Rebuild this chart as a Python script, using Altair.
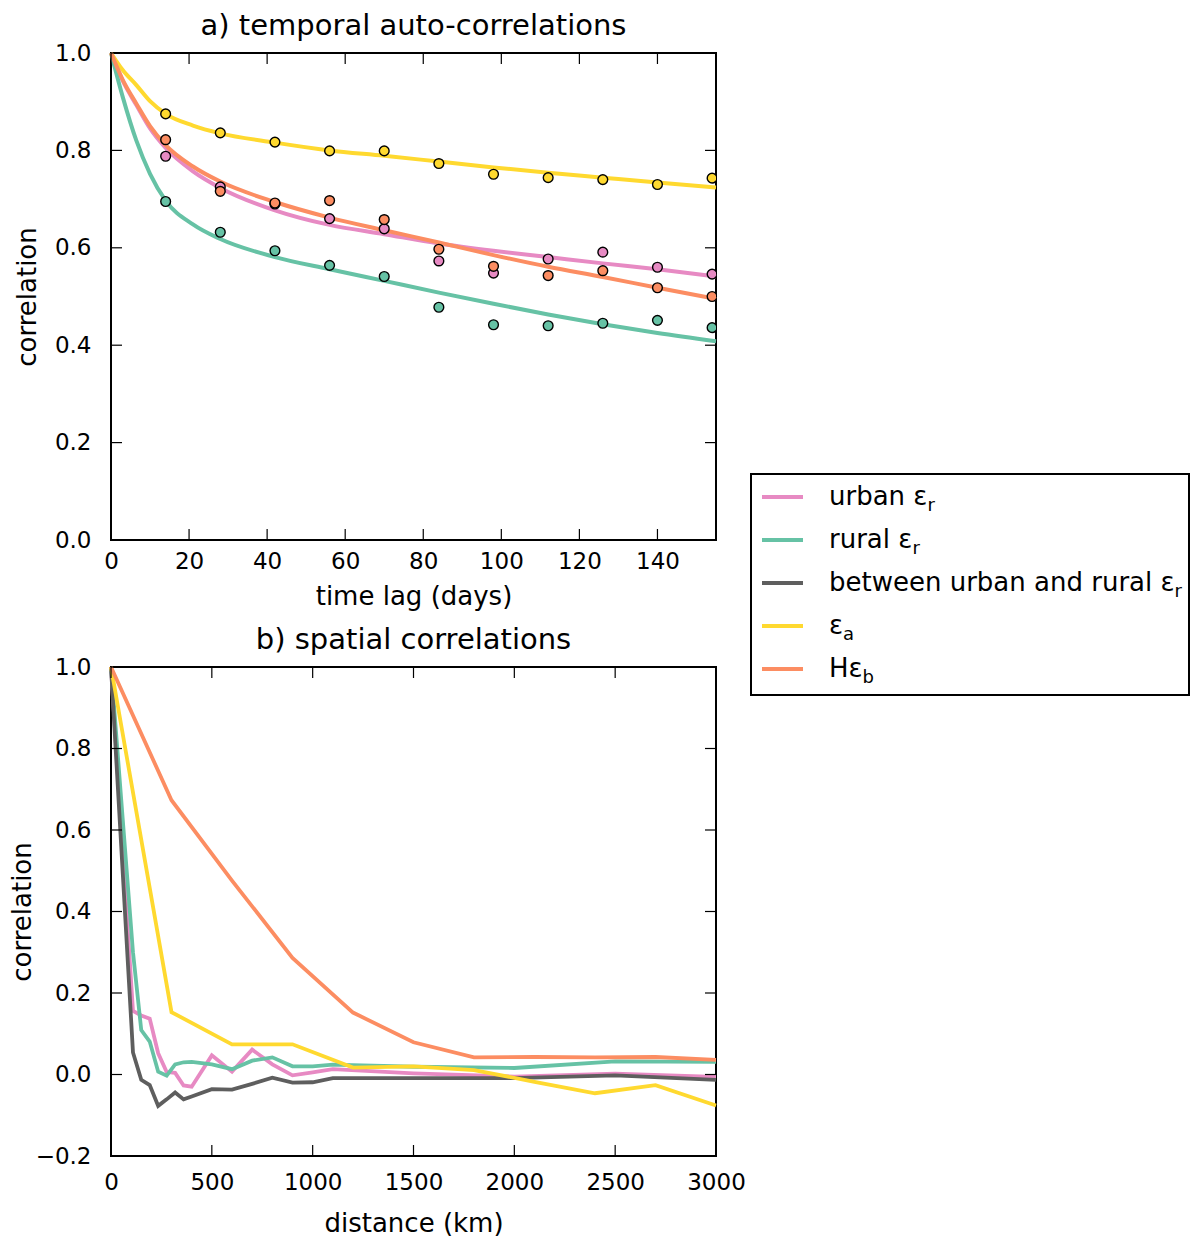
import altair as alt
import pandas as pd

# ---------------- series definitions ----------------
keys = ["urban", "rural", "between", "ea", "Heb"]
colors = ["#e78ac3", "#66c2a5", "#5e5e5e", "#ffd92f", "#fc8d62"]
label_main = ["urban ε", "rural ε", "between urban and rural ε", "ε", "Hε"]
label_sub = ["r", "r", "r", "a", "b"]

# ---------------- panel a: temporal auto-correlations ----------------
obs_days = [14, 28, 42, 56, 70, 84, 98, 112, 126, 140, 154]
obs_urban = [0.788, 0.725, 0.690, 0.660, 0.639, 0.573, 0.548, 0.577, 0.591, 0.560, 0.546]
obs_rural = [0.695, 0.632, 0.594, 0.564, 0.541, 0.478, 0.442, 0.440, 0.445, 0.451, 0.436]
obs_ea = [0.875, 0.836, 0.817, 0.799, 0.799, 0.773, 0.751, 0.744, 0.740, 0.730, 0.743]
obs_Heb = [0.822, 0.716, 0.692, 0.697, 0.658, 0.597, 0.562, 0.543, 0.553, 0.518, 0.500]

fit_days = [0, 3, 6.5, 10, 14, 21, 28, 42, 56, 70, 84, 98, 112, 126, 140, 155]
fit_urban = [1.0, 0.943, 0.893, 0.845, 0.805, 0.757, 0.723, 0.677, 0.647, 0.628, 0.609, 0.594, 0.581, 0.568, 0.556, 0.541]
fit_rural = [1.0, 0.910, 0.820, 0.752, 0.697, 0.648, 0.618, 0.581, 0.556, 0.532, 0.508, 0.485, 0.463, 0.443, 0.425, 0.408]
fit_ea = [1.0, 0.965, 0.934, 0.901, 0.875, 0.851, 0.835, 0.816, 0.800, 0.789, 0.777, 0.765, 0.754, 0.744, 0.734, 0.724]
fit_Heb = [1.0, 0.945, 0.896, 0.850, 0.811, 0.767, 0.736, 0.694, 0.662, 0.636, 0.611, 0.585, 0.561, 0.540, 0.518, 0.495]

a_xticks = [0, 20, 40, 60, 80, 100, 120, 140]
a_yticks = [0.0, 0.2, 0.4, 0.6, 0.8, 1.0]

# ---------------- panel b: spatial correlations ----------------
dist_coarse = [0, 300, 600, 900, 1200, 1500, 1800, 2100, 2400, 2700, 3000]
sp_ea = [1.0, 0.153, 0.074, 0.074, 0.017, 0.020, 0.011, -0.018, -0.046, -0.026, -0.076]
sp_Heb = [1.0, 0.673, 0.476, 0.286, 0.152, 0.079, 0.042, 0.043, 0.042, 0.043, 0.036]

dist_fine = [0, 109, 150, 192, 234, 276, 318, 360, 400, 500, 600, 700, 800, 900,
             1000, 1100, 1500, 2000, 2500, 3000]
sp_urban = [1.0, 0.156, 0.145, 0.137, 0.052, 0.006, 0.004, -0.027, -0.030, 0.047, 0.007,
            0.061, 0.025, -0.002, 0.005, 0.013, 0.003, -0.005, 0.002, -0.006]
sp_rural = [1.0, 0.300, 0.109, 0.081, 0.007, -0.003, 0.025, 0.030, 0.031, 0.025, 0.013,
            0.034, 0.042, 0.020, 0.020, 0.024, 0.019, 0.016, 0.032, 0.031]
sp_between = [1.0, 0.054, -0.013, -0.026, -0.077, -0.061, -0.044, -0.061, -0.054, -0.036,
              -0.037, -0.023, -0.008, -0.020, -0.019, -0.009, -0.009, -0.009, -0.002, -0.013]

b_xticks = [0, 500, 1000, 1500, 2000, 2500, 3000]
b_yticks = [-0.2, 0.0, 0.2, 0.4, 0.6, 0.8, 1.0]

FONT = "DejaVu Sans"
W, HA, HB = 605, 487, 489
TICK = 11
color_scale = alt.Scale(domain=keys, range=colors)


def inner_ticks(xt, yt, w, h):
    xdf = pd.DataFrame({"x": xt})
    ydf = pd.DataFrame({"y": yt})
    style = dict(color="black", strokeWidth=1.2)
    return [
        alt.Chart(xdf).mark_rule(**style).encode(x="x:Q", y=alt.value(h), y2=alt.value(h - TICK)),
        alt.Chart(xdf).mark_rule(**style).encode(x="x:Q", y=alt.value(0), y2=alt.value(TICK)),
        alt.Chart(ydf).mark_rule(**style).encode(y="y:Q", x=alt.value(0), x2=alt.value(TICK)),
        alt.Chart(ydf).mark_rule(**style).encode(y="y:Q", x=alt.value(w), x2=alt.value(w - TICK)),
    ]


def axis(title, values, fmt, lpad, tpad):
    return alt.Axis(title=title, values=values, format=fmt, ticks=False, domain=False,
                    grid=False, labelFlush=False, labelFontSize=23, labelPadding=lpad,
                    titleFontSize=26, titleFontWeight="normal", titlePadding=tpad,
                    labelColor="black", titleColor="black", labelFont=FONT, titleFont=FONT)


# ---- panel a ----
a_layers = []
xa = alt.X("x:Q", scale=alt.Scale(domain=[0, 155], nice=False, zero=False),
           axis=axis("time lag (days)", a_xticks, "d", 10, 10))
ya = alt.Y("y:Q", scale=alt.Scale(domain=[0, 1], nice=False),
           axis=axis("correlation", a_yticks, ".1f", 20, 14))
fits = {"urban": fit_urban, "rural": fit_rural, "ea": fit_ea, "Heb": fit_Heb}
obs = {"urban": obs_urban, "rural": obs_rural, "ea": obs_ea, "Heb": obs_Heb}
first = True
for k in ["urban", "rural", "ea", "Heb"]:
    df = pd.DataFrame({"x": fit_days, "y": fits[k], "s": k})
    enc = dict(x=xa, y=ya) if first else dict(x="x:Q", y="y:Q")
    first = False
    a_layers.append(alt.Chart(df).mark_line(strokeWidth=4, interpolate="monotone").encode(
        color=alt.Color("s:N", scale=color_scale, legend=None), **enc))
for k in ["urban", "rural", "ea", "Heb"]:
    df = pd.DataFrame({"x": obs_days, "y": obs[k], "s": k})
    a_layers.append(alt.Chart(df).mark_point(filled=True, size=95, stroke="black",
                                             strokeWidth=1.4, opacity=1, clip=True).encode(
        x="x:Q", y="y:Q", fill=alt.Fill("s:N", scale=color_scale, legend=None)))
a_layers += inner_ticks(a_xticks, a_yticks, W, HA)
panel_a = alt.layer(*a_layers).properties(
    width=W, height=HA,
    title=alt.TitleParams("a) temporal auto-correlations", fontSize=29, fontWeight="normal",
                          font=FONT, frame="group", offset=1, color="black"),
    view=alt.ViewBackground(stroke="black", strokeWidth=2))

# ---- panel b ----
b_layers = []
xb = alt.X("x:Q", scale=alt.Scale(domain=[0, 3000], nice=False, zero=False),
           axis=axis("distance (km)", b_xticks, "d", 15, 16))
yb = alt.Y("y:Q", scale=alt.Scale(domain=[-0.2, 1.0], nice=False, zero=False),
           axis=axis("correlation", b_yticks, ".1f", 20, 0))
b_series = [("urban", dist_fine, sp_urban), ("rural", dist_fine, sp_rural),
            ("between", dist_fine, sp_between), ("ea", dist_coarse, sp_ea),
            ("Heb", dist_coarse, sp_Heb)]
first = True
for k, xs, ys in b_series:
    df = pd.DataFrame({"x": xs, "y": ys, "s": k})
    enc = dict(x=xb, y=yb) if first else dict(x="x:Q", y="y:Q")
    first = False
    b_layers.append(alt.Chart(df).mark_line(strokeWidth=3.8).encode(
        color=alt.Color("s:N", scale=color_scale, legend=None), **enc))
b_layers += inner_ticks(b_xticks, b_yticks, W, HB)
panel_b = alt.layer(*b_layers).properties(
    width=W, height=HB,
    title=alt.TitleParams("b) spatial correlations", fontSize=29, fontWeight="normal",
                          font=FONT, frame="group", offset=1, color="black"),
    view=alt.ViewBackground(stroke="black", strokeWidth=2))

# ---- legend ----
leg_df = pd.DataFrame({"key": keys, "main": label_main, "sub": label_sub})
lscale = alt.Scale(type="point", domain=keys, range=[23, 195], padding=0)
ly = alt.Y("key:N", scale=lscale, axis=None)
sub_dx = {"urban": 98.5, "rural": 83.5, "between": 345.5, "ea": 14, "Heb": 33.6}
TX = 78
leg_layers = [
    alt.Chart(leg_df).mark_rule(strokeWidth=4).encode(
        x=alt.value(11), x2=alt.value(52), y=ly,
        color=alt.Color("key:N", scale=color_scale, legend=None)),
    alt.Chart(leg_df).mark_text(align="left", baseline="middle", fontSize=26, font=FONT,
                                color="black").encode(x=alt.value(TX), y=ly, text="main:N"),
]
for k in keys:
    leg_layers.append(
        alt.Chart(leg_df).transform_filter(alt.datum.key == k).mark_text(
            align="left", baseline="middle", fontSize=18, font=FONT, color="black",
            dx=sub_dx[k], dy=9).encode(x=alt.value(TX), y=ly, text="sub:N"))
legend = alt.layer(*leg_layers).properties(
    width=438, height=221, view=alt.ViewBackground(stroke="black", strokeWidth=2))

spacer = alt.Chart(pd.DataFrame({"v": [0]})).mark_point(opacity=0).encode(
    x=alt.value(0), y=alt.value(0)).properties(
    width=10, height=419, view=alt.ViewBackground(stroke="transparent"))

left = alt.vconcat(panel_a, panel_b, spacing=15)
right = alt.vconcat(spacer, legend, spacing=0)
chart = alt.hconcat(left, right, spacing=0).configure(font=FONT).configure_view(
    stroke="black").properties(background="white",
                               padding={"top": 3, "left": 0, "right": 0, "bottom": 0})

chart.save("out.html", embed_options={"renderer": "svg", "actions": False})
